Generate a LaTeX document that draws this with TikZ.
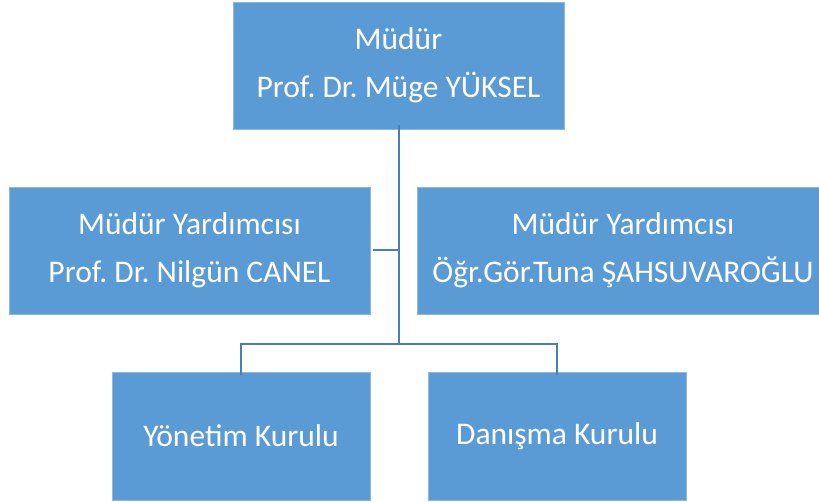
\documentclass[tikz,border=0pt]{standalone}
\usepackage{fontspec}
\setmainfont{Carlito}
\usetikzlibrary{calc, positioning}

\definecolor{boxblue}{HTML}{5B9BD5}
\definecolor{boxedge}{HTML}{8CB8E2}
\definecolor{linkblue}{HTML}{4A7EBB}

\begin{document}
\frenchspacing
\begin{tikzpicture}[x=1pt, y=-1pt,
    unit/.style={rectangle, fill=boxblue, draw=boxedge, line width=0.8pt, text=white,
        align=center, inner sep=0pt, font=\fontsize{31.5}{48}\selectfont},
    link/.style={draw=linkblue, line width=2pt}]
    \useasboundingbox (0,0) rectangle (819,502);
    \begin{scope}
    \clip (0,0) rectangle (819,502);
    \node[unit, minimum width=331pt, minimum height=127pt] (head) at (398.5,65.5) {Müdür\\Prof. Dr. Müge YÜKSEL};
    \node[unit, minimum width=361pt, minimum height=127pt] (vice1) at (189.5,250.5) {Müdür Yardımcısı\\Prof. Dr. Nilgün CANEL};
    \node[unit, minimum width=412pt, minimum height=127pt] (vice2) at (623,250.5) {Müdür Yardımcısı\\Öğr.Gör.Tuna ŞAHSUVAROĞLU};
    \node[unit, minimum width=258pt, minimum height=128pt] (board) at (241,436) {Yönetim Kurulu};
    \node[unit, minimum width=258pt, minimum height=128pt] (council) at (557,436) {Danışma Kurulu};
    \end{scope}

    \coordinate (hub) at (399,344);
    \draw[link] ([yshift=4pt]head.south -| hub) -- (hub);
    \draw[link] ([xshift=3pt]vice1.east) -- (vice1.east -| hub);
    \draw[link, line cap=rect] (board.north |- hub) -- (council.north |- hub);
    \draw[link] (board.north |- hub) -- ([yshift=-3pt]board.north);
    \draw[link] (council.north |- hub) -- ([yshift=-3pt]council.north);
\end{tikzpicture}
\end{document}
